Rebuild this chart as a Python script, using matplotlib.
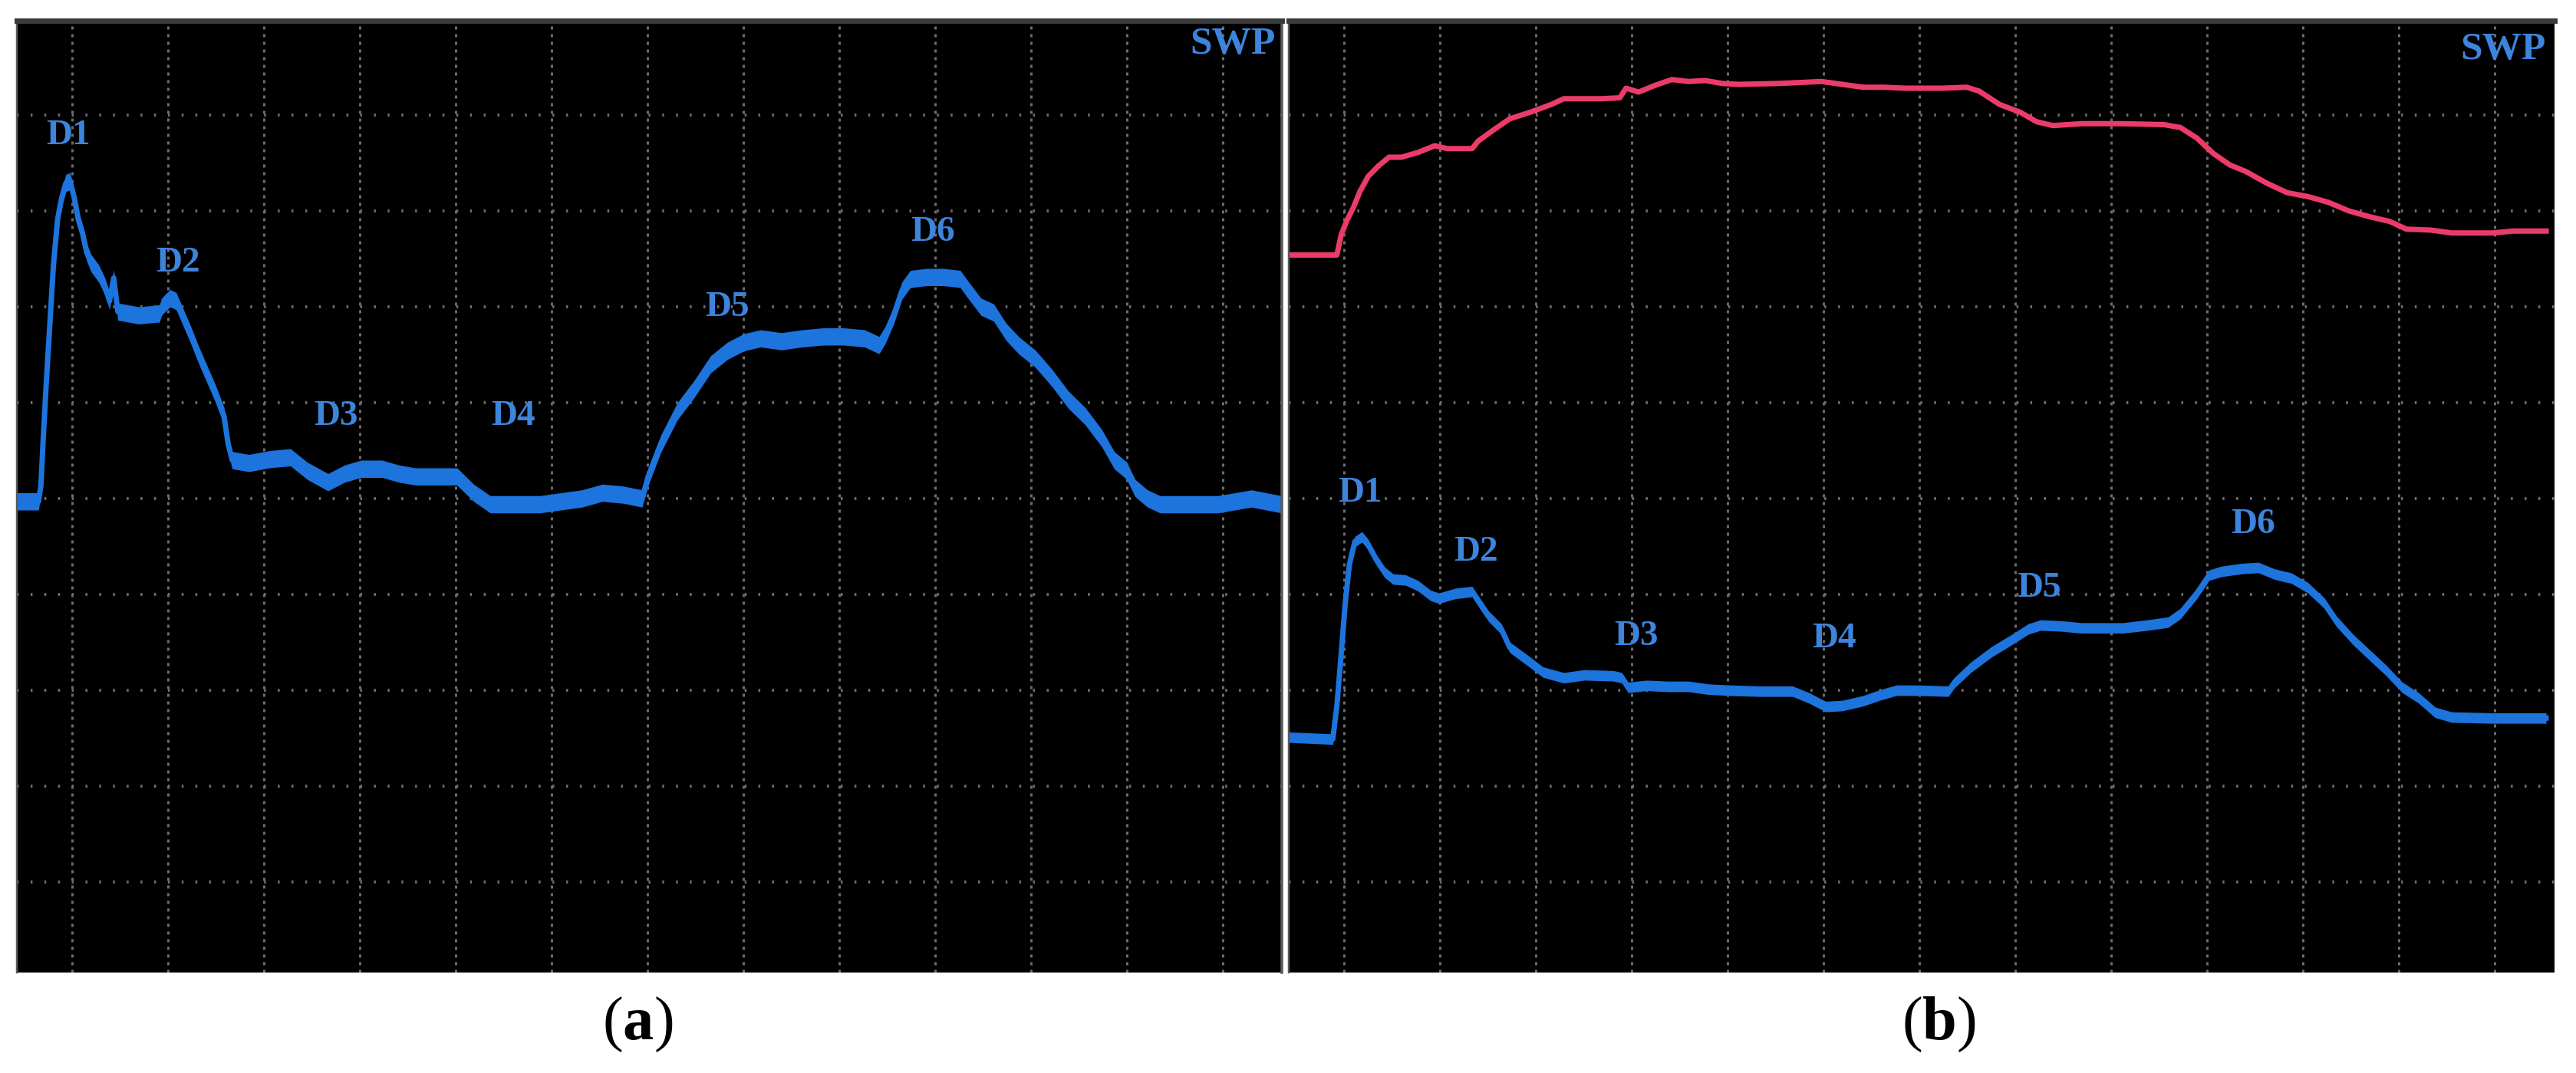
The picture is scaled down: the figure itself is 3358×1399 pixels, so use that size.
import matplotlib.pyplot as plt
import numpy as np

# values read off the scope screens, in grid divisions
# (x: division index from the left, y: division index from the bottom)

# panel (a): blue trace
a_time = [0.42, 0.65, 0.675, 0.696, 0.727, 0.761, 0.805, 0.848, 0.892, 0.935,
          0.978, 1.022, 1.065, 1.108, 1.152, 1.195, 1.282, 1.347, 1.390, 1.434,
          1.477, 1.694, 1.911, 1.933, 2.020, 2.085, 2.150, 2.236, 2.323, 2.410,
          2.497, 2.584, 2.627, 2.670, 2.844, 3.061, 3.278, 3.451, 3.668, 3.842,
          4.015, 4.232, 4.406, 4.579, 4.796, 5.013, 5.187, 5.360, 5.664, 5.881,
          6.098, 6.315, 6.531, 6.748, 6.944, 7.009, 7.139, 7.312, 7.486, 7.659,
          7.833, 8.007, 8.180, 8.397, 8.614, 8.831, 9.048, 9.265, 9.416, 9.482,
          9.568, 9.655, 9.742, 9.915, 10.089, 10.262, 10.349, 10.479, 10.610, 10.740,
          10.870, 11.043, 11.217, 11.390, 11.564, 11.738, 11.868, 11.998, 12.085, 12.215,
          12.345, 12.518, 12.952, 13.299, 13.61]
a_signal = [4.97, 4.97, 5.14, 5.57, 6.14, 6.71, 7.43, 7.91, 8.14, 8.29,
            8.31, 8.14, 7.91, 7.77, 7.57, 7.46, 7.34, 7.20, 7.06, 7.30,
            6.95, 6.91, 6.93, 7.00, 7.09, 7.06, 6.91, 6.71, 6.49, 6.29,
            6.09, 5.86, 5.57, 5.40, 5.37, 5.41, 5.43, 5.29, 5.17, 5.26,
            5.31, 5.31, 5.26, 5.23, 5.23, 5.23, 5.06, 4.94, 4.94, 4.94,
            4.97, 5.00, 5.06, 5.04, 5.00, 5.23, 5.57, 5.91, 6.14, 6.40,
            6.54, 6.63, 6.67, 6.64, 6.67, 6.69, 6.69, 6.67, 6.60, 6.71,
            6.91, 7.17, 7.29, 7.31, 7.31, 7.29, 7.17, 7.00, 6.94, 6.74,
            6.60, 6.46, 6.26, 6.03, 5.86, 5.63, 5.40, 5.29, 5.11, 5.00,
            4.94, 4.94, 4.94, 5.00, 4.94]

# panel (b): lower blue trace
b_time = [0.427, 0.883, 0.926, 0.970, 1.013, 1.056, 1.113, 1.187, 1.252, 1.338,
          1.425, 1.512, 1.642, 1.772, 1.902, 1.989, 2.163, 2.336, 2.401, 2.510,
          2.640, 2.727, 2.835, 2.944, 3.074, 3.291, 3.508, 3.811, 3.898, 3.963,
          4.158, 4.375, 4.592, 4.809, 5.026, 5.330, 5.677, 5.850, 6.024, 6.197,
          6.414, 6.588, 6.761, 6.980, 7.302, 7.366, 7.537, 7.751, 7.966, 8.137,
          8.266, 8.480, 8.694, 8.908, 9.123, 9.380, 9.594, 9.722, 9.894, 10.022,
          10.151, 10.365, 10.536, 10.708, 10.879, 11.051, 11.222, 11.350, 11.522, 11.693,
          11.865, 12.036, 12.207, 12.379, 12.550, 12.979, 13.536]
b_signal = [2.51, 2.49, 2.84, 3.37, 3.91, 4.31, 4.55, 4.60, 4.52, 4.36,
            4.23, 4.16, 4.15, 4.09, 3.99, 3.96, 4.01, 4.03, 3.93, 3.77,
            3.64, 3.45, 3.37, 3.29, 3.19, 3.13, 3.16, 3.15, 3.13, 3.03,
            3.05, 3.04, 3.04, 3.01, 3.00, 2.99, 2.99, 2.92, 2.83, 2.84,
            2.89, 2.95, 3.00, 3.00, 2.99, 3.08, 3.24, 3.40, 3.53, 3.64,
            3.68, 3.67, 3.65, 3.65, 3.65, 3.68, 3.71, 3.80, 4.01, 4.20,
            4.24, 4.27, 4.28, 4.21, 4.17, 4.07, 3.91, 3.72, 3.53, 3.37,
            3.21, 3.03, 2.92, 2.77, 2.72, 2.71, 2.71]

# panel (b): upper red trace
b_ref_time = [0.427, 0.926, 0.970, 1.035, 1.100, 1.165, 1.252, 1.360, 1.469, 1.599,
              1.772, 1.946, 2.076, 2.336, 2.401, 2.553, 2.727, 2.944, 3.161, 3.291,
              3.464, 3.681, 3.876, 3.941, 4.072, 4.245, 4.419, 4.592, 4.766, 4.939,
              5.113, 5.547, 5.980, 6.197, 6.414, 6.631, 6.848, 7.237, 7.494, 7.623,
              7.837, 8.051, 8.223, 8.394, 8.694, 9.123, 9.551, 9.722, 9.894, 10.065,
              10.237, 10.408, 10.622, 10.836, 11.051, 11.265, 11.479, 11.693, 11.907, 12.079,
              12.336, 12.550, 12.979, 13.193, 13.536]
b_ref_signal = [7.54, 7.54, 7.75, 7.91, 8.04, 8.20, 8.36, 8.47, 8.56, 8.56,
                8.61, 8.68, 8.65, 8.65, 8.73, 8.84, 8.96, 9.03, 9.11, 9.17,
                9.17, 9.17, 9.18, 9.28, 9.24, 9.31, 9.37, 9.35, 9.36, 9.33,
                9.32, 9.33, 9.35, 9.32, 9.29, 9.29, 9.28, 9.28, 9.29, 9.25,
                9.11, 9.03, 8.93, 8.89, 8.91, 8.91, 8.90, 8.87, 8.76, 8.60,
                8.48, 8.41, 8.29, 8.19, 8.15, 8.09, 8.00, 7.94, 7.89, 7.81,
                7.80, 7.77, 7.77, 7.79, 7.79]

peak_names = ["D1", "D2", "D3", "D4", "D5", "D6"]
mode_text = "SWP"
panel_names = ["a", "b"]

plt.rcParams['lines.scale_dashes'] = False
plt.rcParams['mathtext.fontset'] = 'custom'
plt.rcParams['mathtext.rm'] = 'Liberation Serif'
plt.rcParams['mathtext.bf'] = 'Liberation Serif:bold'

W, H = 3358, 1399
PX = 0.72      # points per pixel at dpi 100
DIV = 125.0    # one grid division in pixels

BLUE = '#1c74dc'
LABEL_BLUE = '#3d84dc'
RED = '#eb3c69'
GRID = '#6c6c6c'

fig = plt.figure(figsize=(W / 100, H / 100), dpi=100)


def make_panel(left, right, grid_x0, top=26.5, bottom=1268, grid_y0=1275):
    ax = fig.add_axes([left / W, (H - bottom) / H, (right - left) / W, (bottom - top) / H])
    ax.set_facecolor('black')
    ax.set_xlim(1 + (left - grid_x0) / DIV, 1 + (right - grid_x0) / DIV)
    ax.set_ylim((grid_y0 - bottom) / DIV, (grid_y0 - top) / DIV)
    ax.set_xticks(range(1, 14))
    ax.set_yticks(range(1, 10))
    ax.tick_params(length=0, labelbottom=False, labelleft=False)
    ax.xaxis.grid(True, color=GRID, lw=3 * PX, linestyle=(0, (4 * PX, 6 * PX)))
    ax.yaxis.grid(True, color=GRID, lw=4 * PX, linestyle=(0, (2.5 * PX, 15.4 * PX)))
    ax.set_axisbelow(True)
    ax.spines['top'].set_color('#3a3a3a')
    ax.spines['top'].set_linewidth(7 * PX)
    ax.spines['bottom'].set_visible(False)
    for side in ('left', 'right'):
        ax.spines[side].set_color('#5a5a5a')
        ax.spines[side].set_linewidth(2.5 * PX)
    return ax


def draw_trace(ax, t, s, color, half_band, lw):
    t = np.asarray(t)
    s = np.asarray(s)
    if half_band:
        ax.fill_between(t, s - half_band, s + half_band, color=color, lw=0)
    ax.plot(t, s, color=color, lw=lw, solid_joinstyle='round')


def label_peaks(ax, spots):
    for name, (x, y) in zip(peak_names, spots):
        ax.text(x, y, name, color=LABEL_BLUE, fontsize=34, fontweight='bold',
                family='Liberation Serif', ha='center', va='baseline')


ax_a = make_panel(22, 1671, 94)
ax_a.spines['right'].set_linewidth(3.5 * PX)
draw_trace(ax_a, a_time, a_signal, BLUE, 0.09, 7 * PX)
label_peaks(ax_a, [(0.96, 8.70), (2.10, 7.37), (3.75, 5.77), (5.60, 5.77),
                   (7.83, 6.90), (9.98, 7.69)])
ax_a.text(13.55, 9.64, mode_text, color=LABEL_BLUE, fontsize=37, fontweight='bold',
          family='Liberation Serif', ha='right', va='baseline')

ax_b = make_panel(1680, 3330, 1752)
ax_b.spines['right'].set_visible(False)
draw_trace(ax_b, b_ref_time, b_ref_signal, RED, 0, 7 * PX)
draw_trace(ax_b, b_time, b_signal, BLUE, 0.055, 7 * PX)
label_peaks(ax_b, [(1.17, 4.97), (2.38, 4.35), (4.05, 3.47), (6.11, 3.45),
                   (8.25, 3.98), (10.48, 4.64)])
ax_b.text(13.53, 9.58, mode_text, color=LABEL_BLUE, fontsize=37, fontweight='bold',
          family='Liberation Serif', ha='right', va='baseline')

for name, cx in zip(panel_names, [831, 2527]):
    fig.text(cx / W, 1 - 1336 / H, '($\\mathbf{' + name + '}$)', fontsize=58,
             family='Liberation Serif', color='black', ha='center', va='center')

fig.savefig('out.png', dpi=100, facecolor='white')
